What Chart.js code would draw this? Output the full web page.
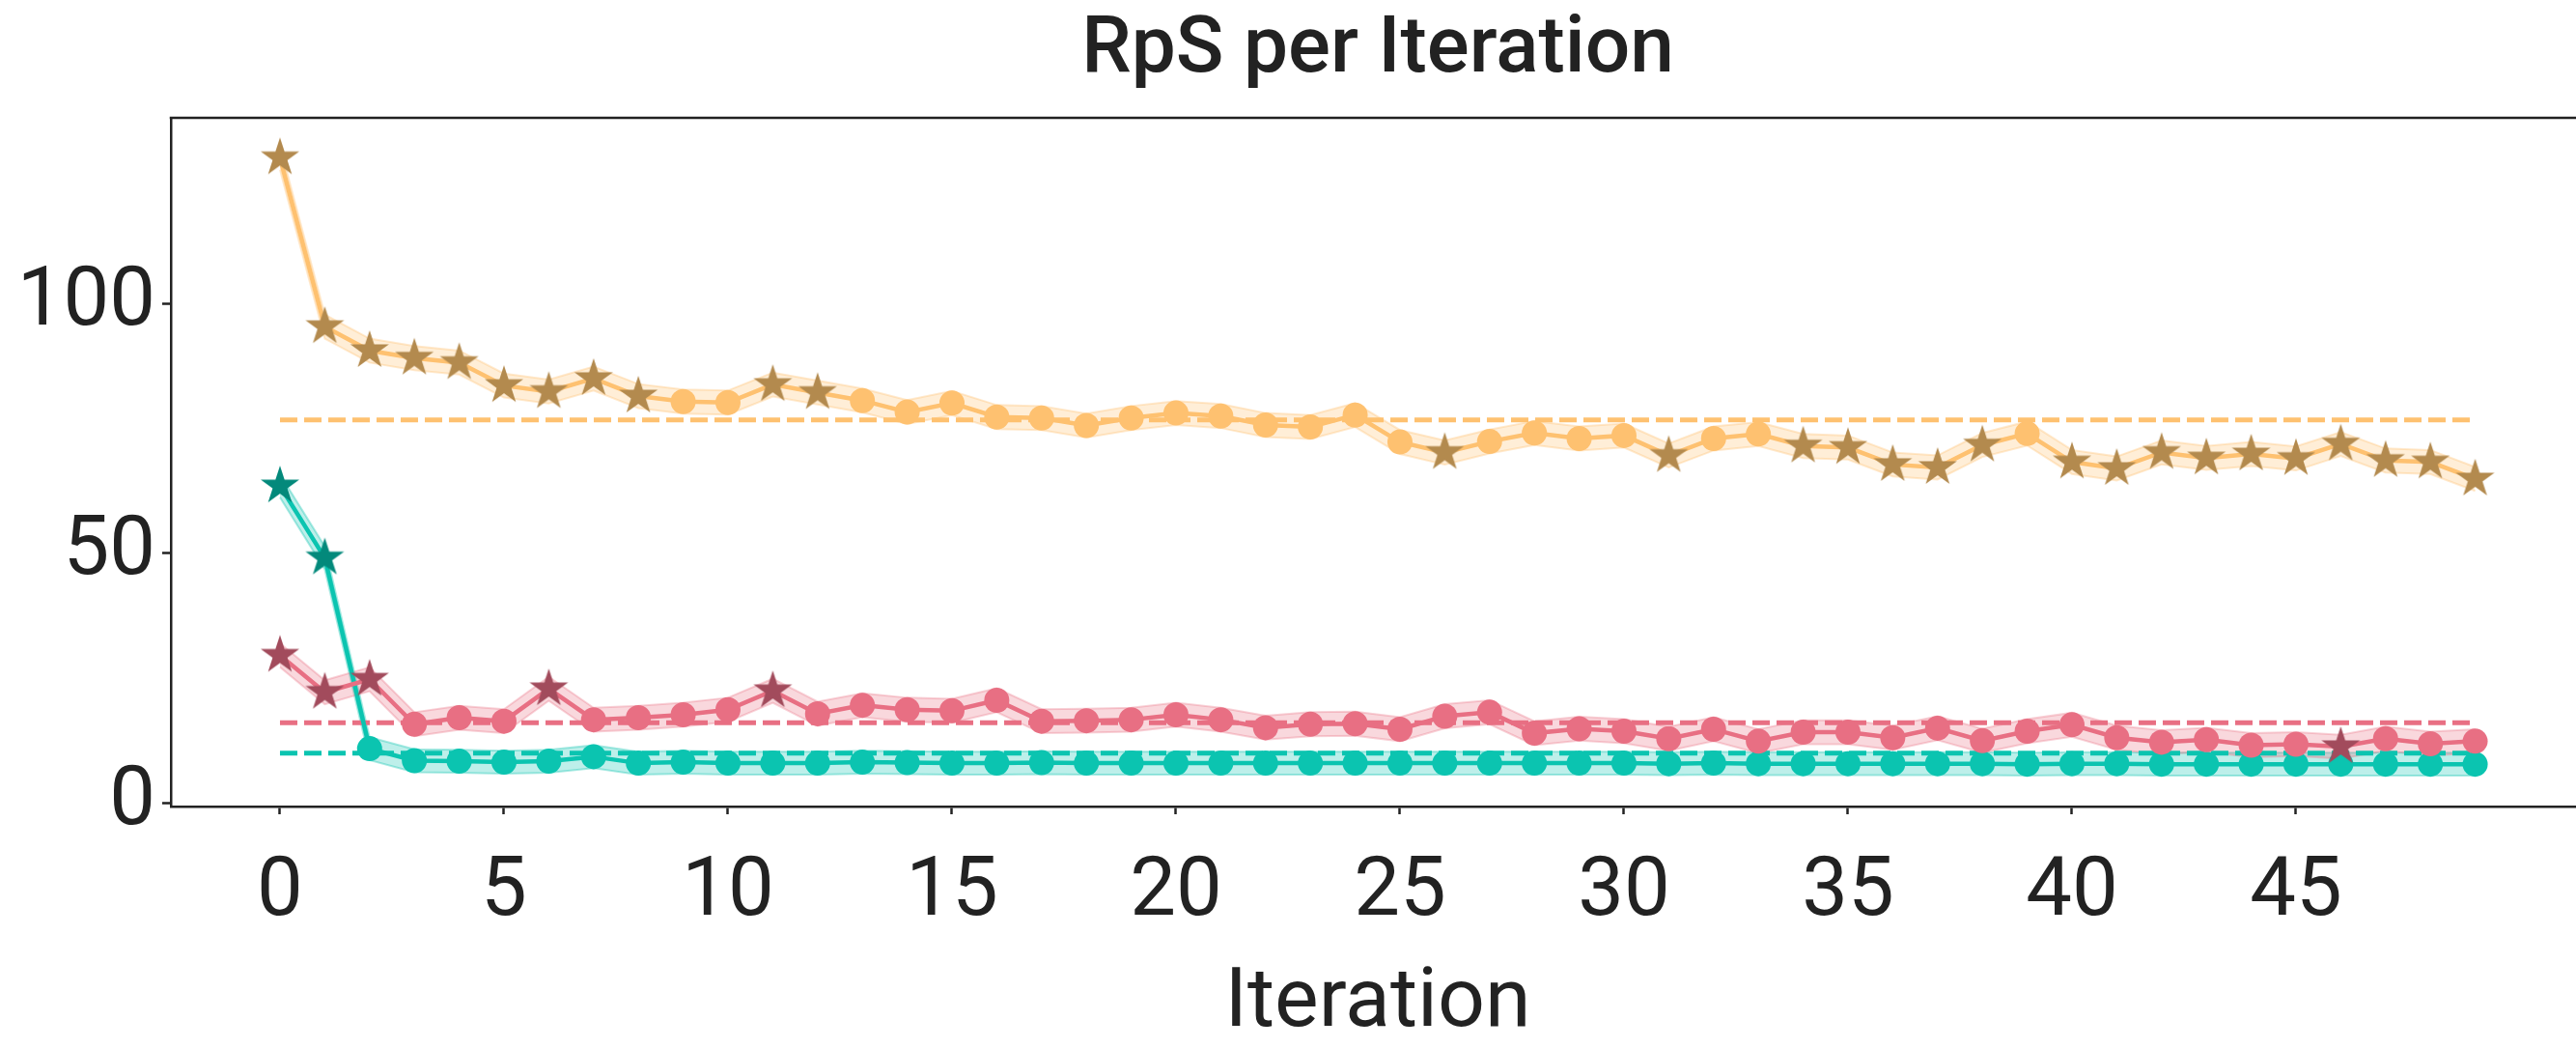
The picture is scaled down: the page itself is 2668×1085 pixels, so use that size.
<!DOCTYPE html>
<html>
<head>
<meta charset="utf-8">
<title>RpS per Iteration</title>
<script src="https://cdn.jsdelivr.net/npm/chart.js@4.4.0/dist/chart.umd.min.js"></script>
<style>
  html, body { margin: 0; padding: 0; background: #ffffff; overflow: hidden; }
  canvas { display: block; }
</style>
</head>
<body>
<canvas id="chart" width="2677" height="1085"></canvas>
<script>
// ---- data ----
const iterations = [0, 1, 2, 3, 4, 5, 6, 7, 8, 9, 10, 11, 12, 13, 14, 15, 16, 17, 18, 19,
  20, 21, 22, 23, 24, 25, 26, 27, 28, 29, 30, 31, 32, 33, 34, 35, 36, 37, 38, 39,
  40, 41, 42, 43, 44, 45, 46, 47, 48, 49];

const rpsOrange = [129.2, 95.4, 90.6, 89.1, 88.2, 83.6, 82.4, 85.0, 81.5, 80.4,
  80.2, 83.8, 82.2, 80.6, 78.3, 80.1, 77.3, 77.1, 75.6, 77.1,
  78.1, 77.5, 75.7, 75.3, 77.7, 72.3, 70.2, 72.4, 74.1, 73.0,
  73.6, 69.6, 73.0, 73.9, 71.5, 71.2, 67.8, 67.2, 71.7, 74.0,
  68.3, 67.0, 70.2, 69.1, 69.9, 69.0, 71.9, 68.6, 68.3, 64.9];

const rpsRed = [29.6, 22.2, 24.8, 15.8, 17.1, 16.4, 22.9, 16.7, 17.1, 17.7,
  18.7, 22.5, 17.9, 19.6, 18.7, 18.5, 20.6, 16.4, 16.5, 16.7,
  17.7, 16.7, 15.1, 15.8, 15.9, 14.8, 17.4, 18.2, 14.0, 14.9,
  14.4, 12.9, 14.8, 12.4, 14.2, 14.2, 13.1, 15.0, 12.5, 14.4,
  15.7, 13.1, 12.2, 12.7, 11.6, 11.8, 11.3, 12.9, 11.9, 12.4];

const rpsTeal = [63.5, 49.1, 10.9, 8.5, 8.4, 8.2, 8.4, 9.3, 8.0, 8.2,
  8.0, 8.0, 8.0, 8.2, 8.1, 8.0, 8.0, 8.1, 8.0, 8.0,
  8.0, 8.0, 8.0, 8.0, 8.0, 8.0, 8.0, 8.0, 8.0, 8.0,
  8.0, 7.9, 8.0, 7.9, 7.9, 7.9, 7.9, 7.9, 7.9, 7.8,
  7.9, 7.9, 7.8, 7.8, 7.8, 7.8, 7.8, 7.8, 7.8, 7.8];

// iterations highlighted with a star marker
const starsOrange = [0, 1, 2, 3, 4, 5, 6, 7, 8, 11, 12, 26, 31, 34, 35, 36, 37, 38,
  40, 41, 42, 43, 44, 45, 46, 47, 48, 49];
const starsRed = [0, 1, 2, 6, 11, 46];
const starsTeal = [0, 1];

// reference (average) levels
const meanOrange = 76.7;
const meanRed = 16.1;
const meanTeal = 10.0;

// half-width of the shaded spread around each line
const spreadOrange = 2.4;
const spreadRed = 2.4;
const spreadTeal = 2.3;

const xTickValues = [0, 5, 10, 15, 20, 25, 30, 35, 40, 45];
const yTickValues = [0, 50, 100];

const chartTitle = 'RpS per Iteration';
const xTitle = 'Iteration';

// ---- styling ----
const FONT = 'Roboto';
const INK = '#222222';

function makeStar(color, R) {
  const pad = 2;
  const size = Math.ceil(2 * R + 2 * pad);
  const cv = document.createElement('canvas');
  cv.width = size; cv.height = size;
  const g = cv.getContext('2d');
  const c = size / 2;
  const r = R * 0.381966;
  g.beginPath();
  for (let k = 0; k < 10; k++) {
    const rad = k % 2 === 0 ? R : r;
    const a = -Math.PI / 2 + k * Math.PI / 5;
    const px = c + rad * Math.cos(a);
    const py = c + rad * Math.sin(a);
    if (k === 0) g.moveTo(px, py); else g.lineTo(px, py);
  }
  g.closePath();
  g.fillStyle = color;
  g.fill();
  return cv;
}

const series = [
  { values: rpsOrange, stars: starsOrange, mean: meanOrange, spread: spreadOrange,
    line: '#FEC170', star: '#B38A4E', band: 'rgba(254,193,112,0.28)', edge: 'rgba(254,193,112,0.35)' },
  { values: rpsRed, stars: starsRed, mean: meanRed, spread: spreadRed,
    line: '#E86F83', star: '#A24B5C', band: 'rgba(232,111,131,0.27)', edge: 'rgba(232,111,131,0.32)' },
  { values: rpsTeal, stars: starsTeal, mean: meanTeal, spread: spreadTeal,
    line: '#0BC4B0', star: '#03897B', band: 'rgba(11,196,176,0.27)', edge: 'rgba(11,196,176,0.35)' }
];

function pts(arr) { return iterations.map((x, i) => ({ x: x, y: arr[i] })); }

const datasets = [];
series.forEach((s) => {
  const upper = s.values.map(v => v + s.spread);
  const lower = s.values.map(v => v - s.spread);
  datasets.push({
    data: pts(upper), borderColor: s.edge, borderWidth: 2, pointRadius: 0,
    fill: false, order: 50, tension: 0
  });
  datasets.push({
    data: pts(lower), borderColor: s.edge, borderWidth: 2, pointRadius: 0,
    backgroundColor: s.band, fill: '-1', order: 50, tension: 0
  });
});
series.forEach((s) => {
  datasets.push({
    data: [{ x: iterations[0], y: s.mean }, { x: iterations[iterations.length - 1], y: s.mean }],
    borderColor: s.line, borderWidth: 5, borderDash: [18, 7], pointRadius: 0,
    fill: false, order: 40
  });
});
series.forEach((s) => {
  datasets.push({
    data: pts(s.values), borderColor: s.line, borderWidth: 4.5, backgroundColor: s.line,
    pointBackgroundColor: s.line, pointBorderWidth: 0,
    pointRadius: ctx => (s.stars.includes(ctx.dataIndex) ? 0 : 13),
    fill: false, order: 30, tension: 0
  });
});
series.forEach((s) => {
  const img = makeStar(s.star, 21);
  datasets.push({
    data: s.stars.map(i => ({ x: iterations[i], y: s.values[i] })),
    showLine: false, pointStyle: img, pointRadius: 21, order: 20
  });
});

// title centred over the axes, plus the top edge of the frame
const frameAndTitle = {
  id: 'frameAndTitle',
  afterDraw(chart) {
    const a = chart.chartArea;
    const g = chart.ctx;
    g.save();
    g.strokeStyle = INK;
    g.lineWidth = 2.5;
    g.beginPath();
    g.moveTo(a.left - 1.25, a.top);
    g.lineTo(a.right, a.top);
    g.stroke();
    g.fillStyle = INK;
    g.font = '500 82px ' + FONT;
    g.textAlign = 'center';
    g.textBaseline = 'middle';
    g.fillText(chartTitle, (a.left + a.right) / 2, 53);
    g.restore();
  }
};

function draw() {
  new Chart(document.getElementById('chart'), {
    type: 'line',
    data: { datasets: datasets },
    plugins: [frameAndTitle],
    options: {
      responsive: false,
      animation: false,
      devicePixelRatio: 1,
      layout: { padding: { top: 122, left: 0, right: 0, bottom: 0 }, autoPadding: false },
      plugins: {
        legend: { display: false },
        tooltip: { enabled: false },
        title: { display: false }
      },
      scales: {
        x: {
          type: 'linear',
          min: -2.435,
          max: 51.445,
          afterBuildTicks: (sc) => { sc.ticks = xTickValues.map(v => ({ value: v })); },
          afterFit: (sc) => { sc.height = 250; },
          ticks: { color: INK, font: { family: FONT, size: 85 }, padding: 32, maxRotation: 0, autoSkip: false },
          grid: { drawOnChartArea: false, drawTicks: true, tickLength: 8, tickWidth: 2.5, tickColor: INK },
          border: { display: true, color: INK, width: 2.5 },
          title: {
            display: true, text: xTitle, color: INK,
            font: { family: FONT, size: 86, lineHeight: 1.2 },
            padding: { top: 0, bottom: -7 }
          }
        },
        y: {
          type: 'linear',
          min: -0.68,
          max: 137.2,
          afterBuildTicks: (sc) => { sc.ticks = yTickValues.map(v => ({ value: v })); },
          afterFit: (sc) => { sc.width = 177; },
          ticks: { color: INK, font: { family: FONT, size: 85 }, padding: 7 },
          grid: { drawOnChartArea: false, drawTicks: true, tickLength: 9, tickWidth: 2.5, tickColor: INK },
          border: { display: true, color: INK, width: 2.5 }
        }
      }
    }
  });
}

if (document.fonts && document.fonts.load) {
  Promise.all([
    document.fonts.load('85px Roboto'),
    document.fonts.load('500 82px Roboto')
  ]).then(draw, draw);
} else {
  draw();
}
</script>
</body>
</html>
